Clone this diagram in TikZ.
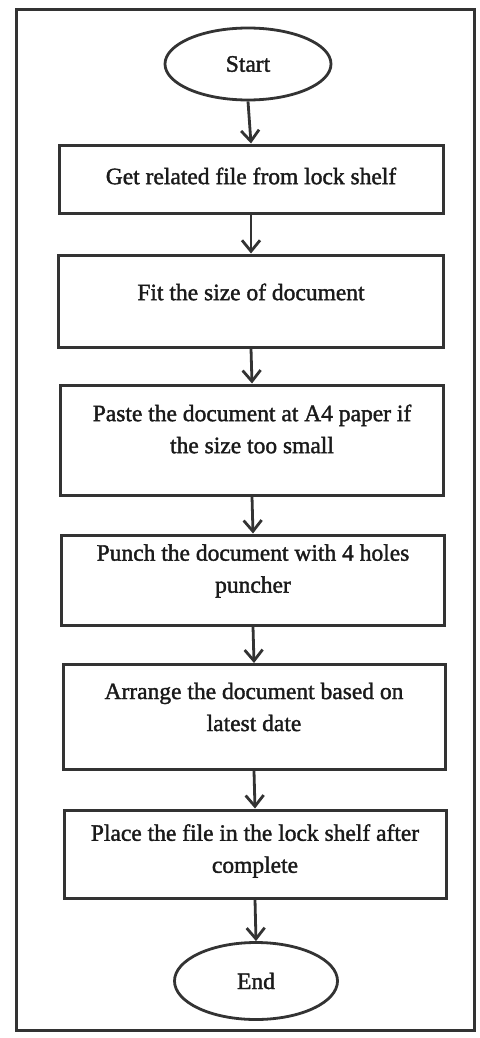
\documentclass[tikz,border=0pt]{standalone}
\usepackage{fontspec}
\setmainfont{Liberation Serif}
% slightly emboldened serif for the step labels
\newfontfamily\heavyserif{Liberation Serif}[FakeBold=1.6]
\usetikzlibrary{shapes.geometric,arrows.meta}
\definecolor{ink}{HTML}{333333}
\definecolor{txt}{HTML}{1A1A1A}
\begin{document}
\begin{tikzpicture}[x=1pt,y=-1pt,
  stepbox/.style={draw=ink, line width=3pt, rectangle, inner sep=0pt},
  term/.style={draw=ink, line width=2.8pt, ellipse, inner sep=0pt},
  label text/.style={text=txt, align=center, inner sep=0pt,
    font=\heavyserif\fontsize{23.5}{32}\selectfont},
  flow/.style={draw=ink, line width=2.8pt,
    -{Straight Barb[length=11pt,width=18pt,line width=2.8pt]}}]
  \useasboundingbox (0,0) rectangle (479,1038);
  % outer frame
  \draw[draw=ink, line width=3pt] (16,10) rectangle (474,1030);

  % terminals
  \node[term, minimum width=166, minimum height=72] (start) at (248,64) {};
  \node[label text] (startT) at (start.center) {Start};
  \node[term, minimum width=163, minimum height=77] (end) at (256,981) {};
  \node[label text] (endT) at (end.center) {End};

  % process steps
  \node[stepbox, minimum width=384, minimum height=68]  (b1) at (251,179) {};
  \node[stepbox, minimum width=385, minimum height=92]  (b2) at (251,301) {};
  \node[stepbox, minimum width=383, minimum height=110] (b3) at (252,440) {};
  \node[stepbox, minimum width=383, minimum height=90]  (b4) at (253,580) {};
  \node[stepbox, minimum width=382, minimum height=105] (b5) at (254,717) {};
  \node[stepbox, minimum width=382, minimum height=88]  (b6) at (255,854) {};

  \node[label text] (b1T) at ([yshift=3pt]b1.center) {Get related file from lock shelf};
  \node[label text] (b2T) at ([yshift=9pt]b2.center) {Fit the size of document};
  \node[label text] (b3T) at ([yshift=11pt]b3.center) {Paste the document at A4 paper if\\the size too small};
  \node[label text] (b4T) at ([yshift=9pt]b4.center) {Punch the document with 4 holes\\puncher};
  \node[label text] (b5T) at ([yshift=10pt]b5.center) {Arrange the document based on\\latest date};
  \node[label text] (b6T) at ([yshift=3pt]b6.center) {Place the file in the lock shelf after\\complete};

  % connectors
  \draw[flow] (start.south) -- (b1.north);
  \draw[flow] (b1.south) -- (b2.north);
  \draw[flow] (b2.south) -- (b3.north);
  \draw[flow] (b3.south) -- (b4.north);
  \draw[flow] (b4.south) -- (b5.north);
  \draw[flow] (b5.south) -- (b6.north);
  \draw[flow] (b6.south) -- (end.north);
\end{tikzpicture}
\end{document}
